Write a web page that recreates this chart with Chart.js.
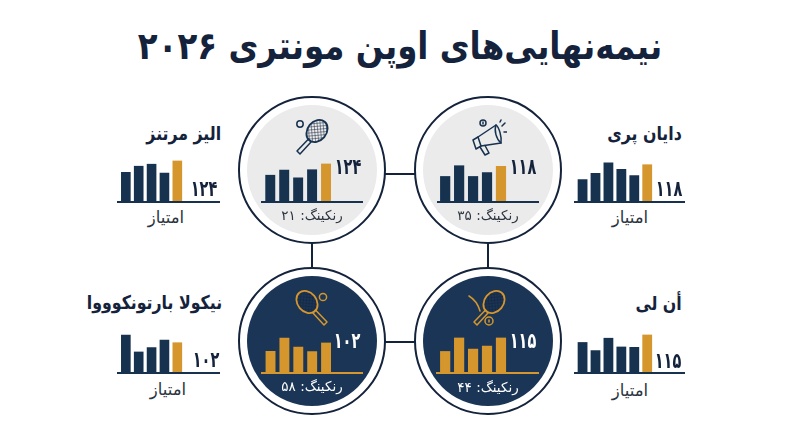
<!DOCTYPE html>
<html lang="fa">
<head>
<meta charset="utf-8">
<title>نیمه‌نهایی‌های اوپن مونتری ۲۰۲۶</title>
<script src="https://cdn.jsdelivr.net/npm/chart.js@4"></script>
<style>
  html, body { margin: 0; padding: 0; background: #fff; }
  #page { position: relative; width: 800px; height: 447px; overflow: hidden; font-family: "DejaVu Sans", sans-serif; color: #14233b; }
  #page canvas { position: absolute; }
  .txt { position: absolute; white-space: nowrap; direction: rtl; line-height: 1; }
  /* DejaVu's Arabic is wide and flat, so it gets set larger and squeezed back */
  .title { font-size: 38px; font-weight: bold; left: 400px; top: 46px; transform: translate(-50%, -50%) scaleX(0.855); }
  .name { font-size: 19px; font-weight: bold; transform: translateY(-50%) scaleX(0.83); transform-origin: right center; }
  .unit { font-size: 16.5px; color: #2b3440; transform: translate(-50%, -50%); }
  .score { font-size: 22px; font-weight: bold; transform: translate(-50%, -50%) scaleX(0.66); }
  .rank { font-size: 13.5px; color: #2b3440; transform: translate(-50%, -50%); }
  .ring { position: absolute; box-sizing: border-box; width: 148px; height: 148px; border: 2px solid #14233b; border-radius: 50%; background: #fff; }
  .disc { position: absolute; width: 130px; height: 130px; border-radius: 50%; }
  .link { position: absolute; background: #14233b; }
  svg.icon { position: absolute; width: 38px; height: 38px; fill: none; stroke-width: 1.5; stroke-linecap: round; stroke-linejoin: round; }
</style>
</head>
<body>
<div id="page">
  <div class="link" style="left:385px;top:173px;width:30px;height:2px"></div>
  <div class="link" style="left:385px;top:341px;width:30px;height:2px"></div>
  <div class="link" style="left:311px;top:244px;width:2px;height:26px"></div>
  <div class="link" style="left:487px;top:244px;width:2px;height:26px"></div>

  <svg width="0" height="0" style="position:absolute">
    <defs>
      <pattern id="mesh" width="3" height="3" patternUnits="userSpaceOnUse" patternTransform="rotate(45)">
        <path d="M0 0H3M0 0V3" stroke="currentColor" stroke-width="1" fill="none"/>
      </pattern>
      <g id="racket">
        <ellipse cx="24" cy="13" rx="9.5" ry="12" transform="rotate(40 24 13)" fill="url(#mesh)" stroke="currentColor" stroke-width="1.8"/>
        <path d="M15.5 21 L4 33 L7 36 L18 24 Z" stroke="currentColor"/>
      </g>
    </defs>
  </svg>
</div>

<script>
// scores per tournament round, last one in the bar row is the highlighted one
const dayanOuter = [70, 90, 124, 103, 83, 118];
const dayanInner = [84, 120, 84, 97, 118];
const elizeOuter = [89, 108, 114, 87, 124];
const elizeInner = [87, 104, 78, 105, 124];
const anneOuter = [92, 67, 105, 78, 77, 115];
const anneInner = [70, 115, 78, 88, 115];
const nikolaOuter = [128, 70, 85, 111, 102];
const nikolaInner = [73, 119, 88, 72, 102];

const categories5 = ['۱', '۲', '۳', '۴', '۵'];
const categories6 = ['۱', '۲', '۳', '۴', '۵', '۶'];

const titleText = 'نیمه‌نهایی‌های اوپن مونتری ۲۰۲۶';
const unitText = 'امتیاز';
const players = ['دایان پری', 'الیز مرتنز', 'أن لی', 'نیکولا بارتونکوووا'];
const scoreLabels = ['۱۱۸', '۱۲۴', '۱۱۵', '۱۰۲'];
const rankLabels = ['رنکینگ: ۳۵', 'رنکینگ: ۲۱', 'رنکینگ: ۴۴', 'رنکینگ: ۵۸'];

const NAVY = '#17324f';
const ORANGE = '#d5962e';
const GREY = '#ebebeb';
const DARK = '#1b3556';

const page = document.getElementById('page');

function addText(cls, text, css) {
  const el = document.createElement('div');
  el.className = 'txt ' + cls;
  el.textContent = text;
  Object.assign(el.style, css);
  page.appendChild(el);
  return el;
}

// baseline runs the full canvas width, past the bars, under the score label
const baselinePlugin = {
  id: 'baseline',
  afterDatasetsDraw(chart, args, opts) {
    const y = chart.scales.y.getPixelForValue(0) + 1;
    const c = chart.ctx;
    c.save();
    c.strokeStyle = opts.color;
    c.lineWidth = 2;
    c.beginPath();
    c.moveTo(0, y);
    c.lineTo(chart.width, y);
    c.stroke();
    c.restore();
  }
};

function barRow(o) {
  const canvas = document.createElement('canvas');
  const plotH = 44;
  canvas.width = o.right - o.left;
  canvas.height = plotH + 2;
  canvas.style.left = o.left + 'px';
  canvas.style.top = (o.base - plotH - 1) + 'px';
  page.appendChild(canvas);
  const plotW = o.pitch * o.values.length;
  const n = o.values.length;
  const colors = o.values.map((v, i) => (i === n - 1 ? o.hi : o.bar));
  new Chart(canvas, {
    type: 'bar',
    data: {
      labels: o.labels,
      datasets: [{
        data: o.values,
        backgroundColor: colors,
        barPercentage: o.barW / o.pitch,
        categoryPercentage: 1
      }]
    },
    options: {
      responsive: false,
      animation: false,
      devicePixelRatio: 2,
      layout: { padding: { left: o.plotLeft - o.left, right: o.right - o.plotLeft - plotW, top: 0, bottom: 2 } },
      scales: {
        x: { display: false },
        y: { display: false, min: 0, max: plotH / o.pxPer }
      },
      plugins: {
        legend: { display: false },
        tooltip: { enabled: false },
        baseline: { color: o.line }
      }
    },
    plugins: [baselinePlugin]
  });
}

function circle(cx, cy, fill) {
  const ring = document.createElement('div');
  ring.className = 'ring';
  ring.style.left = (cx - 74) + 'px';
  ring.style.top = (cy - 74) + 'px';
  page.appendChild(ring);
  const disc = document.createElement('div');
  disc.className = 'disc';
  disc.style.left = (cx - 65) + 'px';
  disc.style.top = (cy - 65) + 'px';
  disc.style.background = fill;
  page.appendChild(disc);
}

function icon(x, y, color, inner) {
  page.insertAdjacentHTML('beforeend',
    `<svg class="icon" viewBox="0 0 38 38" style="left:${x}px;top:${y}px;color:${color};stroke:${color}">${inner}</svg>`);
}

addText('title', titleText, {});

circle(488, 170, GREY);
circle(312, 170, GREY);
circle(488, 341, DARK);
circle(312, 341, DARK);

barRow({ values: dayanOuter, labels: categories6, left: 574, right: 685, plotLeft: 576.1, pitch: 12.93, barW: 9.8, base: 202, pxPer: 0.3107, bar: NAVY, hi: ORANGE, line: NAVY });
barRow({ values: dayanInner, labels: categories5, left: 437, right: 539, plotLeft: 438.2, pitch: 13.95, barW: 10.2, base: 202, pxPer: 0.2966, bar: NAVY, hi: ORANGE, line: NAVY });
barRow({ values: elizeOuter, labels: categories5, left: 117.3, right: 220.7, plotLeft: 119.7, pitch: 12.95, barW: 9.7, base: 202, pxPer: 0.3253, bar: NAVY, hi: ORANGE, line: NAVY });
barRow({ values: elizeInner, labels: categories5, left: 261, right: 363.3, plotLeft: 263.3, pitch: 14, barW: 10, base: 202, pxPer: 0.301, bar: NAVY, hi: ORANGE, line: NAVY });
barRow({ values: anneOuter, labels: categories6, left: 574, right: 685, plotLeft: 576.1, pitch: 12.93, barW: 9.8, base: 373, pxPer: 0.3246, bar: NAVY, hi: ORANGE, line: NAVY });
barRow({ values: anneInner, labels: categories5, left: 436, right: 539, plotLeft: 438.2, pitch: 13.95, barW: 10.2, base: 373, pxPer: 0.2986, bar: ORANGE, hi: ORANGE, line: ORANGE });
barRow({ values: nikolaOuter, labels: categories5, left: 117.3, right: 220.7, plotLeft: 119.7, pitch: 12.95, barW: 9.7, base: 373, pxPer: 0.2908, bar: NAVY, hi: ORANGE, line: NAVY });
barRow({ values: nikolaInner, labels: categories5, left: 260.7, right: 363.3, plotLeft: 263.3, pitch: 14, barW: 10, base: 373, pxPer: 0.2876, bar: ORANGE, hi: ORANGE, line: ORANGE });

// names, right aligned on the baseline end
addText('name', players[0], { right: (800 - 682) + 'px', top: '133px' });
addText('name', players[1], { right: (800 - 221) + 'px', top: '133px' });
addText('name', players[2], { right: (800 - 682) + 'px', top: '303px' });
addText('name', players[3], { right: (800 - 222) + 'px', top: '302px' });

addText('unit', unitText, { left: '630px', top: '218px' });
addText('unit', unitText, { left: '166px', top: '218px' });
addText('unit', unitText, { left: '630px', top: '391px' });
addText('unit', unitText, { left: '168px', top: '390px' });

addText('score', scoreLabels[0], { left: '669px', top: '189px' });
addText('score', scoreLabels[0], { left: '523px', top: '167px' });
addText('score', scoreLabels[1], { left: '204px', top: '189px' });
addText('score', scoreLabels[1], { left: '348px', top: '167px' });
addText('score', scoreLabels[2], { left: '668px', top: '361px' });
addText('score', scoreLabels[2], { left: '523px', top: '341px', color: '#fff' });
addText('score', scoreLabels[3], { left: '206px', top: '360px' });
addText('score', scoreLabels[3], { left: '347px', top: '341px', color: '#fff' });

addText('rank', rankLabels[0], { left: '488px', top: '216px' });
addText('rank', rankLabels[1], { left: '312px', top: '216px' });
addText('rank', rankLabels[2], { left: '488px', top: '388px', color: '#fff' });
addText('rank', rankLabels[3], { left: '312px', top: '387px', color: '#fff' });

// icons
const megaphone = `
  <path d="M9 18 L27 6 C30 8 33 18 32 24 L12 27 Z"/>
  <path d="M27 6 C25 11 27 20 32 24"/>
  <path d="M9 18 L4 21 L7 30 L12 27"/>
  <path d="M11 28 L16 36 L20 34 L16 26.5"/>
  <circle cx="14" cy="4" r="3"/><path d="M14 3 V5"/>
  <path d="M33 7 L36 4 M35 13 H38 M31 3 L32 1"/>`;
const racket = `<use href="#racket"/><circle cx="7" cy="6" r="3.2"/>`;
const racketFlip = `<g transform="translate(38 0) scale(-1 1)"><use href="#racket"/></g><circle cx="30" cy="8" r="3.6"/>`;
const racketBall = `<g transform="translate(2 0)"><use href="#racket"/></g><circle cx="21" cy="32" r="4"/><path d="M21 31 V33"/><path d="M1 7 C6 10 10 15 12 22"/>`;

icon(469, 119, NAVY, megaphone);
icon(293, 118, NAVY, racket);
icon(468, 289, ORANGE, racketBall);
icon(293, 289, ORANGE, racketFlip);
</script>
</body>
</html>
